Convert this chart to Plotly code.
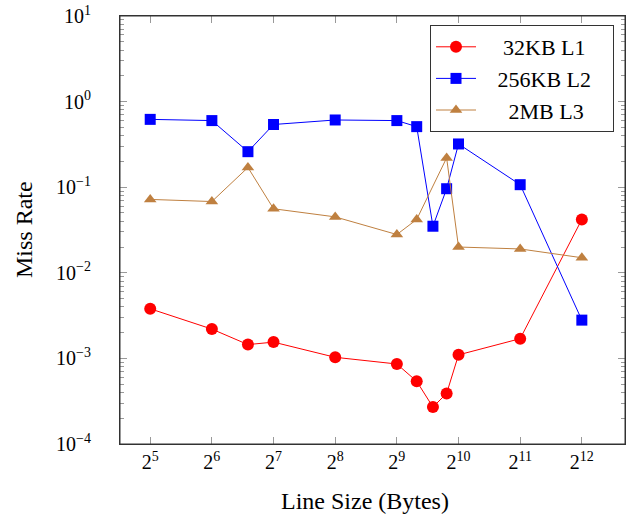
import plotly.graph_objects as go

line_size = [32, 64, 96, 128, 256, 512, 640, 768, 896, 1024, 2048, 4096]
l1_32kb = [0.0038, 0.0022, 0.00145, 0.00155, 0.00103, 0.00086, 0.00054, 0.00027, 0.00039, 0.0011, 0.0017, 0.042]
l2_256kb = [0.62, 0.60, 0.26, 0.54, 0.61, 0.60, 0.51, 0.035, 0.096, 0.32, 0.107, 0.0028]
l3_2mb = [0.072, 0.068, 0.17, 0.056, 0.045, 0.028, 0.042, None, 0.22, 0.020, 0.019, 0.015]
NB = "\u00a0"
series_names = [NB * 4 + "32KB L1" + NB * 3, NB * 3 + "256KB L2" + NB * 3, NB * 5 + "2MB L3" + NB * 3]

x_tickvals = [32, 64, 128, 256, 512, 1024, 2048, 4096]
x_ticktext = ["2<sup>5</sup>", "2<sup>6</sup>", "2<sup>7</sup>", "2<sup>8</sup>",
              "2<sup>9</sup>", "2<sup>10</sup>", "2<sup>11</sup>", "2<sup>12</sup>"]
y_tickvals = [1e1, 1e0, 1e-1, 1e-2, 1e-3, 1e-4]
y_ticktext = ["10<sup>1</sup>", "10<sup>0</sup>", "10<sup>−1</sup>", "10<sup>−2</sup>",
              "10<sup>−3</sup>", "10<sup>−4</sup>"]

FONT = "Liberation Serif"
TICKC = "#999999"
XR = [4.51 * 0.30103, 12.7 * 0.30103]
YR = [-4, 1]

W, H = 632, 519
L, R, T, B = 120, 7, 16, 75
PW, PH = W - L - R, H - T - B

fig = go.Figure()
fig.add_trace(go.Scatter(x=line_size, y=l1_32kb, name=series_names[0], mode="lines+markers",
                         line=dict(color="#ff0000", width=1),
                         marker=dict(symbol="circle", size=12, color="#ff0000")))
fig.add_trace(go.Scatter(x=line_size, y=l2_256kb, name=series_names[1], mode="lines+markers",
                         line=dict(color="#0000ff", width=1),
                         marker=dict(symbol="square", size=11, color="#0000ff")))
fig.add_trace(go.Scatter(x=line_size, y=l3_2mb, name=series_names[2], mode="lines+markers",
                         line=dict(color="#bf8040", width=1),
                         marker=dict(symbol="triangle-up", size=11, color="#bf8040"),
                         connectgaps=True))

# empty helper traces so the tick-only overlay axes get drawn
for xa, ya in [("x2", "y"), ("x", "y2"), ("x", "y3"), ("x", "y4")]:
    fig.add_trace(go.Scatter(x=[], y=[], xaxis=xa, yaxis=ya, showlegend=False, hoverinfo="skip"))

common = dict(showgrid=False, zeroline=False, automargin=False)

fig.update_layout(
    width=W, height=H,
    margin=dict(l=L, r=R, t=T, b=B),
    paper_bgcolor="white", plot_bgcolor="white",
    font=dict(family=FONT, size=20, color="black"),
    showlegend=True,
    legend=dict(x=(614 - L) / PW, y=(444 - 25) / PH, xanchor="right", yanchor="top",
                bordercolor="#333333", borderwidth=1, bgcolor="white",
                font=dict(family=FONT, size=22), itemwidth=40),
    xaxis=dict(type="log", range=XR, tickvals=x_tickvals, ticktext=x_ticktext,
               ticks="inside", ticklen=7, tickcolor=TICKC,
               showline=True, linecolor="#333333", linewidth=1, mirror=True,
               tickfont=dict(family=FONT, size=20), **common),
    xaxis2=dict(type="log", range=XR, overlaying="x", side="top", anchor="y",
                tickvals=x_tickvals, showticklabels=False, showline=False,
                ticks="inside", ticklen=7, tickcolor=TICKC, **common),
    yaxis=dict(type="log", range=YR, tickvals=y_tickvals, ticktext=y_ticktext,
               ticks="inside", ticklen=7, tickcolor=TICKC, ticklabelstandoff=24,
               ticklabeloverflow="allow",
               showline=True, linecolor="#333333", linewidth=1, mirror=True,
               tickfont=dict(family=FONT, size=20), **common),
    yaxis2=dict(type="log", range=YR, overlaying="y", side="left", anchor="x",
                dtick="D1", showticklabels=False, showline=False,
                ticks="inside", ticklen=4, tickcolor=TICKC, **common),
    yaxis3=dict(type="log", range=YR, overlaying="y", side="right", anchor="x",
                dtick="D1", showticklabels=False, showline=False,
                ticks="inside", ticklen=4, tickcolor=TICKC, **common),
    yaxis4=dict(type="log", range=YR, overlaying="y", side="right", anchor="x",
                tickvals=y_tickvals, showticklabels=False, showline=False,
                ticks="inside", ticklen=7, tickcolor=TICKC, **common),
    shapes=[dict(type="rect", xref="paper", yref="paper", x0=0, y0=0, x1=1, y1=1,
                 line=dict(color="#333333", width=1), layer="above")],
    annotations=[
        dict(text="Miss Rate", xref="paper", yref="paper", x=(24 - L) / PW, y=0.5,
             xanchor="center", yanchor="middle", textangle=-90, showarrow=False,
             font=dict(family=FONT, size=24)),
        dict(text="Line Size (Bytes)", xref="paper", yref="paper", x=(365 - L) / PW,
             y=(444 - 501) / PH, xanchor="center", yanchor="middle", showarrow=False,
             font=dict(family=FONT, size=24)),
    ],
)

# remove the page's default 8px body margin so the figure fills the window exactly
fig.write_html("out.html", config={"displayModeBar": False},
               post_script="document.body.style.margin='0';")
